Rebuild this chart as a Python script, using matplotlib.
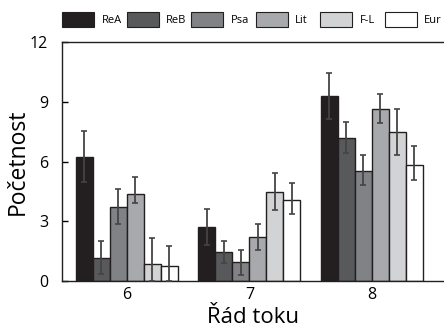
import numpy as np
import matplotlib
matplotlib.use("Agg")
import matplotlib.pyplot as plt
from matplotlib.patches import Patch

plt.rcParams['font.family'] = ['Open Sans', 'DejaVu Sans']

# data
groups = ["6", "7", "8"]
series = ["ReA", "ReB", "Psa", "Lit", "F-L", "Eur"]
colors = ["#231f20", "#58595b", "#808285", "#a7a9ac", "#d1d3d4", "#ffffff"]

means = {
    "ReA": [6.24, 2.73, 9.29],
    "ReB": [1.17, 1.47, 7.19],
    "Psa": [3.73, 0.95, 5.54],
    "Lit": [4.35, 2.19, 8.63],
    "F-L": [0.85, 4.45, 7.46],
    "Eur": [0.75, 4.08, 5.84],
}
upper = {
    "ReA": [7.53, 3.63, 10.46],
    "ReB": [2.02, 2.02, 8.00],
    "Psa": [4.62, 1.57, 6.33],
    "Lit": [5.22, 2.86, 9.40],
    "F-L": [2.17, 5.41, 8.63],
    "Eur": [1.77, 4.90, 6.79],
}
lower = {
    "ReA": [4.95, 1.83, 8.12],
    "ReB": [0.34, 0.89, 6.44],
    "Psa": [2.86, 0.30, 4.80],
    "Lit": [3.90, 1.54, 7.95],
    "F-L": [0.00, 3.55, 6.33],
    "Eur": [0.00, 3.35, 5.07],
}

W, H = 444, 335
fig = plt.figure(figsize=(W / 100, H / 100), dpi=100)
ax = fig.add_axes([62 / W, 1 - 281 / H, 1 - 62 / W, 239 / H])

x = np.arange(len(groups))
w = 0.139
for i, s in enumerate(series):
    m = np.array(means[s])
    err = [m - np.array(lower[s]), np.array(upper[s]) - m]
    ax.bar(x + (i - 2.5) * w, m, w, color=colors[i], edgecolor="#231f20",
           linewidth=1.0, zorder=2)
    ax.errorbar(x + (i - 2.5) * w, m, yerr=err, fmt="none", ecolor="#444444",
                elinewidth=1.3, capsize=2.2, capthick=1.2, zorder=3)

ax.set_xlim(-0.53, 2.59)
ax.set_ylim(0, 12)
ax.set_yticks([0, 3, 6, 9, 12])
ax.set_xticks(x)
ax.set_xticklabels(groups)
ax.tick_params(axis="y", direction="in", length=4, labelsize=11.5, width=1, pad=10)
ax.tick_params(axis="x", length=0, labelsize=11.5, pad=4)
ax.spines["right"].set_visible(False)
for sp in ["left", "bottom", "top"]:
    ax.spines[sp].set_color("#231f20")
    ax.spines[sp].set_linewidth(1.0)

ax.set_ylabel("Početnost", fontsize=16.5, labelpad=0)
ax.set_xlabel("Řád toku", fontsize=16, labelpad=3)

# legend: one entry per slot, evenly spaced along the top
for i, (s, c) in enumerate(zip(series, colors)):
    h = Patch(facecolor=c, edgecolor="#231f20", linewidth=0.8)
    fig.legend([h], [s], loc="upper left",
               bbox_to_anchor=((62 + 64.5 * i) / W, 1 - 12 / H),
               frameon=False, fontsize=8, handlelength=2.9, handleheight=1.65,
               handletextpad=0.65, borderpad=0, borderaxespad=0)

fig.savefig("out.png", dpi=100)
